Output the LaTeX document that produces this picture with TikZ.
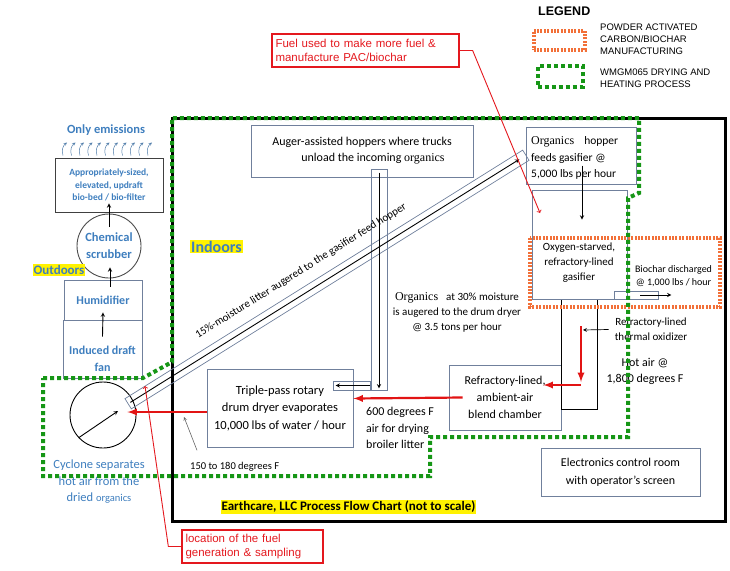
\documentclass[tikz,border=0pt]{standalone}
\usepackage{fontspec}
\setmainfont{Carlito}
\newfontfamily\arialfont{Liberation Sans}
\newfontfamily\timesfont{Liberation Serif}
\usetikzlibrary{positioning, arrows}
\definecolor{skyblue}{RGB}{62,126,190}
\definecolor{boxline}{RGB}{112,128,156}
\definecolor{wmgreen}{RGB}{22,150,22}
\definecolor{pacorange}{RGB}{242,112,56}
\definecolor{callred}{RGB}{228,24,30}
\definecolor{hotred}{RGB}{226,20,20}
\newcommand{\fsz}[2]{\fontsize{#1}{#2}\selectfont}
\tikzset{
    x=1pt, y=-1pt,
    box/.style={draw=boxline, line width=0.9pt, inner sep=0pt, align=center},
    txt/.style={inner sep=0pt, align=center, font=\fsz{12}{16.5}},
    bluetxt/.style={txt, text=skyblue, font=\bfseries\fsz{12.5}{17}},
    tube/.style={draw=boxline, line width=0.7pt, inner sep=0pt},
    flow/.style={-stealth, line width=0.9pt},
    hot/.style={-latex, draw=hotred, line width=2.2pt},
    redcall/.style={draw=callred, line width=1.3pt, text=callred, inner sep=0pt, align=left, font=\arialfont\fsz{11.5}{14.5}},
    redline/.style={->, draw=callred, line width=0.9pt},
    wmzone/.style={draw=wmgreen, line width=4pt, dash pattern=on 4pt off 3pt},
    paczone/.style={draw=pacorange, line width=4pt, dash pattern=on 2pt off 1.4pt},
    hilite/.style={fill=yellow, inner sep=1pt},
    legtxt/.style={inner sep=0pt, align=left, anchor=west, font=\arialfont\fsz{9.5}{12}},
}

\begin{document}
\begin{tikzpicture}
    \useasboundingbox (0,0) rectangle (730,570);

    % legend
    \node[inner sep=0pt, anchor=west, font=\arialfont\bfseries\fsz{12.5}{15}] (legend) at (538,11) {LEGEND};
    \node[paczone, minimum width=51, minimum height=19, inner sep=0pt] (legpac) at (559,40) {};
    \node[wmzone, minimum width=45, minimum height=21, inner sep=0pt] (legwm) at (560,76.5) {};
    \node[legtxt] (legpactxt) at (600,39) {POWDER ACTIVATED\\CARBON/BIOCHAR\\MANUFACTURING};
    \node[legtxt] (legwmtxt) at (600,78) {WMGM065 DRYING AND\\HEATING PROCESS};

    % building
    \draw[line width=3pt] (172,118) rectangle (725,521);

    % outdoor train
    \node[bluetxt] (emis) at (106,130) {Only emissions};
    \node[box, draw=black!75, minimum width=108, minimum height=54, text=skyblue, font=\bfseries\fsz{9.5}{12.5}] (biobed) at (109,185) {Appropriately-sized,\\elevated, updraft\\bio-bed / bio-filter};
    \node[draw=black!70, circle, line width=0.9pt, minimum size=64, inner sep=0pt, align=center, text=skyblue, font=\bfseries\fsz{12.5}{17}] (scrub) at (109,246) {Chemical\\scrubber};
    \node[hilite, text=skyblue, font=\bfseries\fsz{13}{15}] (outdoors) at (59,270) {Outdoors};
    \node[box, minimum width=78, minimum height=40, text=skyblue, font=\bfseries\fsz{12}{15}] (hum) at (103,300) {Humidifier};
    \node[box, minimum width=79, minimum height=58] (fan) at (102.5,349) {};
    \node[bluetxt, font=\bfseries\fsz{12}{17}] (fantxt) at (102.5,359) {Induced draft\\fan};
    \node[draw, circle, line width=0.9pt, minimum size=66, inner sep=0pt] (cyclone) at (103,415) {};
    \node[txt, text=skyblue, font=\fsz{12.5}{16.5}] (cyctxt) at (99,482) {Cyclone separates\\hot air from the\\dried {\fsz{10.5}{16}organics}};

    \foreach \dx in {-46,-37.5,...,40}
        \draw[-stealth, skyblue!70!gray, line width=0.5pt] ([xshift=\dx pt, yshift=2pt]biobed.north) to[bend left=35] ++(4,-13);

    % indoor equipment
    \node[hilite, text=skyblue, font=\bfseries\fsz{16}{18}] (indoors) at (216.5,246.5) {Indoors};
    \node[box, minimum width=222, minimum height=52, font=\fsz{12}{16}] (hopper) at (362,151) {Auger-assisted hoppers where trucks\\\hspace*{22pt}unload the incoming {\timesfont organics}};
    \node[tube, minimum width=16, minimum height=221] (vaug) at (379,279.5) {};
    \node[tube, minimum width=37, minimum height=9] (haug) at (351.5,385.5) {};
    \node[tube, rotate=32, minimum width=469, minimum height=12] (iaug) at (327,279.5) {};
    \node[txt, rotate=32, font=\fsz{11}{13}] (iauglbl) at (301,271) {15\%-moisture litter augered to the gasifier feed hopper};
    \node[txt, font=\fsz{11}{15}] (augtxt) at (457,312) {{\timesfont\fsz{12}{15}Organics}\hspace{8pt}at 30\% moisture\\is augered to the drum dryer\\@ 3.5 tons per hour};

    \node[box, minimum width=146, minimum height=78, font=\fsz{12.5}{17.5}] (dryer) at (280,408) {Triple-pass rotary\\drum dryer evaporates\\10,000 lbs of water / hour};
    \node[txt, align=left, anchor=west] (airtxt) at (366,428) {600 degrees F\\air for drying\\broiler litter};
    \node[box, minimum width=112, minimum height=65, font=\fsz{12}{17}] (blend) at (505,397.5) {Refractory-lined,\\ambient-air\\blend chamber};
    \node[draw=black, line width=0.9pt, minimum width=36, minimum height=110, inner sep=0pt] (oxid) at (579,354) {};
    \node[txt, font=\fsz{11}{15}] (oxlbl) at (651,329.5) {Refractory-lined\\thermal oxidizer};
    \node[txt, font=\fsz{12}{16}] (hotlbl) at (645,371) {Hot air @\\1,800 degrees F};

    \node[box, minimum width=110, minimum height=57] (ghopper) at (581,155.5) {};
    \node[txt, align=left, anchor=west, font=\fsz{11.5}{16.5}] (ghtxt) at (531,158) {{\timesfont\fsz{12}{16.5}Organics}\hspace{10pt}hopper\\feeds gasifier @\\5,000 lbs per hour};
    \node[box, minimum width=95, minimum height=109] (gasifier) at (579.5,244.5) {};
    \node[txt, font=\fsz{11}{15}] (gastxt) at (579,263) {Oxygen-starved,\\refractory-lined\\gasifier};
    \node[tube, minimum width=44, minimum height=8] (bchar) at (636,295) {};
    \node[txt, font=\fsz{10}{13}] (bchtxt) at (673.5,276.5) {Biochar discharged\\@ 1,000 lbs / hour};

    \node[box, minimum width=159, minimum height=48, font=\fsz{12}{18}] (control) at (620.5,472) {Electronics control room\\with operator's screen};
    \node[txt, anchor=west, font=\fsz{10.5}{13}] (templbl) at (190,467) {150 to 180 degrees F};
    \node[hilite, font=\bfseries\fsz{13}{15}] (title) at (348.5,507) {Earthcare, LLC Process Flow Chart (not to scale)};

    % material and air flow
    \path[flow]
        ([yshift=-17pt]fan.north) edge ([yshift=8pt]hum.south)
        ([xshift=7pt,yshift=-7pt]hum.north) edge ([xshift=1pt,yshift=11pt]scrub.south)
        ([yshift=19pt]scrub.center) edge ([yshift=9pt]biobed.south)
        ([yshift=-4pt]vaug.north) edge ([yshift=2pt]vaug.south)
        (haug.east) edge ([xshift=3pt]haug.west)
        ([xshift=1pt,yshift=-10pt]ghopper.center) edge ([xshift=2.5pt,yshift=-30pt]gasifier.north)
        ([xshift=4pt]bchar.center) edge ([xshift=13pt]bchar.east)
        (cyclone.223) edge ([xshift=15pt,yshift=4pt]cyclone.center);
    \draw[flow, shorten <=3pt, shorten >=8pt] (iaug.west) -- (iaug.east);
    \draw[flow, line width=0.7pt] ([xshift=-6pt]oxlbl.west) -- ([xshift=4pt,yshift=24pt]oxid.center);
    \coordinate (exhaust) at (184,417);
    \draw[-stealth, black!60, line width=0.6pt] ([xshift=7pt,yshift=12pt]templbl.north west) -- (exhaust);

    \draw[hot] ([xshift=2pt,yshift=28pt]oxid.center) -- ([xshift=2pt,yshift=-28pt]oxid.center);
    \draw[hot] ([xshift=2pt,yshift=-31pt]oxid.center) -- ([xshift=-18pt,yshift=12.5pt]blend.east);
    \draw[hot] ([xshift=14pt]blend.west) -- ([yshift=9.5pt]dryer.east);
    \draw[hot] ([yshift=-4pt]dryer.west) -- ([xshift=-9pt,yshift=3pt]cyclone.east);

    % process zones
    \draw[paczone] (530,238) rectangle (720,307);
    \draw[wmzone] (43,378) -- (143,378) -- (172,362) -- (172,118) -- (639,118) -- (639,193)
        -- (628,198) -- (628,437) -- (430,437) -- (430,476) -- (43,476) -- cycle;

    % call-outs
    \node[redcall, minimum width=187, minimum height=33, text width=180] (fuelcall) at (365.5,50.5) {Fuel used to make more fuel \&\\manufacture PAC/biochar};
    \node[redcall, minimum width=141, minimum height=33, text width=134] (loccall) at (252.5,546.5) {location of the fuel\\generation \& sampling};
    \coordinate (fueltip) at (540,213);
    \coordinate (loctip) at (145,386);
    \draw[redline] (fuelcall.east) -- ++(13,0) -- (fueltip);
    \draw[redline] (loccall.west) -- ++(-13,0) -- (loctip);
\end{tikzpicture}
\end{document}
